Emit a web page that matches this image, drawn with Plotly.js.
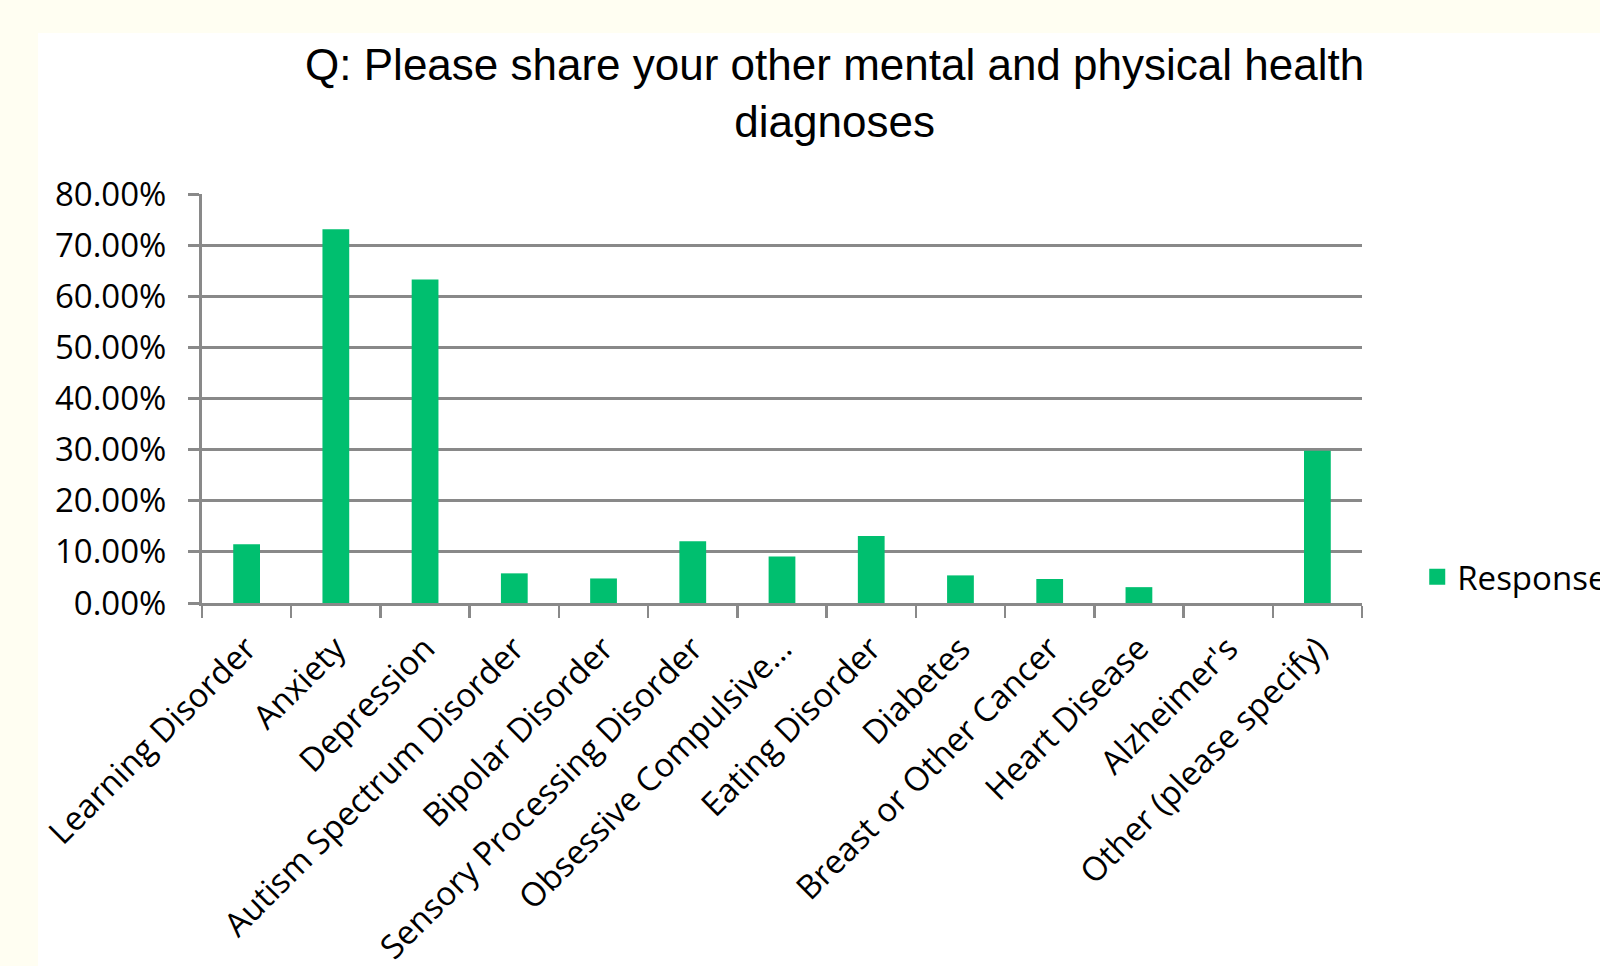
<!DOCTYPE html>
<html>
<head>
<meta charset="utf-8">
<script src="https://cdn.plot.ly/plotly-3.0.1.min.js"></script>
<style>
  html, body { margin: 0; padding: 0; background: #FFFEF2; width: 1600px; height: 966px; overflow: hidden; }
  #chart { position: absolute; left: 38px; top: 33px; width: 1562px; height: 933px; background: #ffffff; }
</style>
</head>
<body>
<div id="chart"></div>
<script>
const categories = [
  "Learning Disorder", "Anxiety", "Depression", "Autism Spectrum Disorder",
  "Bipolar Disorder", "Sensory Processing Disorder", "Obsessive Compulsive...",
  "Eating Disorder", "Diabetes", "Breast or Other Cancer", "Heart Disease",
  "Alzheimer's", "Other (please specify)"
];
const responses = [0.115, 0.731, 0.633, 0.058, 0.048, 0.121, 0.091, 0.131, 0.054, 0.047, 0.031, 0.0, 0.298];
const seriesName = "Response";
const yTickVals = [0, 0.1, 0.2, 0.3, 0.4, 0.5, 0.6, 0.7, 0.8];

const green = "#00BF6F";
const grid = "#898989";

const traces = [
  {
    type: "bar",
    x: categories,
    y: responses,
    name: seriesName,
    marker: { color: green, line: { width: 0 } },
    showlegend: false,
    hoverinfo: "x+y"
  },
  {
    type: "scatter",
    mode: "markers",
    x: [null],
    y: [null],
    name: seriesName,
    marker: { color: green, symbol: "square", size: 21 },
    showlegend: true
  }
];

const layout = {
  width: 1562,
  height: 933,
  paper_bgcolor: "#ffffff",
  plot_bgcolor: "#ffffff",
  margin: { l: 164, r: 238, t: 161, b: 363, autoexpand: false },
  title: {
    text: "Q: Please share your other mental and physical health<br>diagnoses",
    font: { family: "Liberation Sans, Arial, sans-serif", size: 44, color: "#000000" },
    x: 0.51,
    xanchor: "center",
    y: 0.95,
    yanchor: "top"
  },
  bargap: 0.7,
  xaxis: {
    type: "category",
    range: [-0.5, 12.5],
    tickangle: -45,
    tickson: "boundaries",
    ticks: "outside",
    ticklen: 12,
    tickwidth: 2.5,
    tickcolor: grid,
    showline: true,
    linecolor: grid,
    linewidth: 3,
    showgrid: false,
    automargin: false,
    ticklabelstandoff: 10,
    tickfont: { family: "Open Sans, sans-serif", size: 33, color: "#000000" },
    fixedrange: true
  },
  yaxis: {
    range: [0, 0.8],
    tickvals: yTickVals,
    tickformat: ".2%",
    ticks: "outside",
    ticklen: 11,
    tickwidth: 3,
    tickcolor: grid,
    showline: true,
    linecolor: grid,
    linewidth: 3,
    showgrid: true,
    gridcolor: grid,
    gridwidth: 3,
    zeroline: false,
    automargin: false,
    ticklabelstandoff: 15,
    tickfont: { family: "Open Sans, sans-serif", size: 33, color: "#000000" },
    fixedrange: true
  },
  legend: {
    xref: "container",
    yref: "paper",
    x: 0.883,
    xanchor: "left",
    y: 0.064,
    yanchor: "middle",
    bgcolor: "rgba(0,0,0,0)",
    font: { family: "Open Sans, sans-serif", size: 33, color: "#000000" }
  },
  showlegend: true
};

Plotly.newPlot("chart", traces, layout, { displayModeBar: false, staticPlot: true });
</script>
</body>
</html>
